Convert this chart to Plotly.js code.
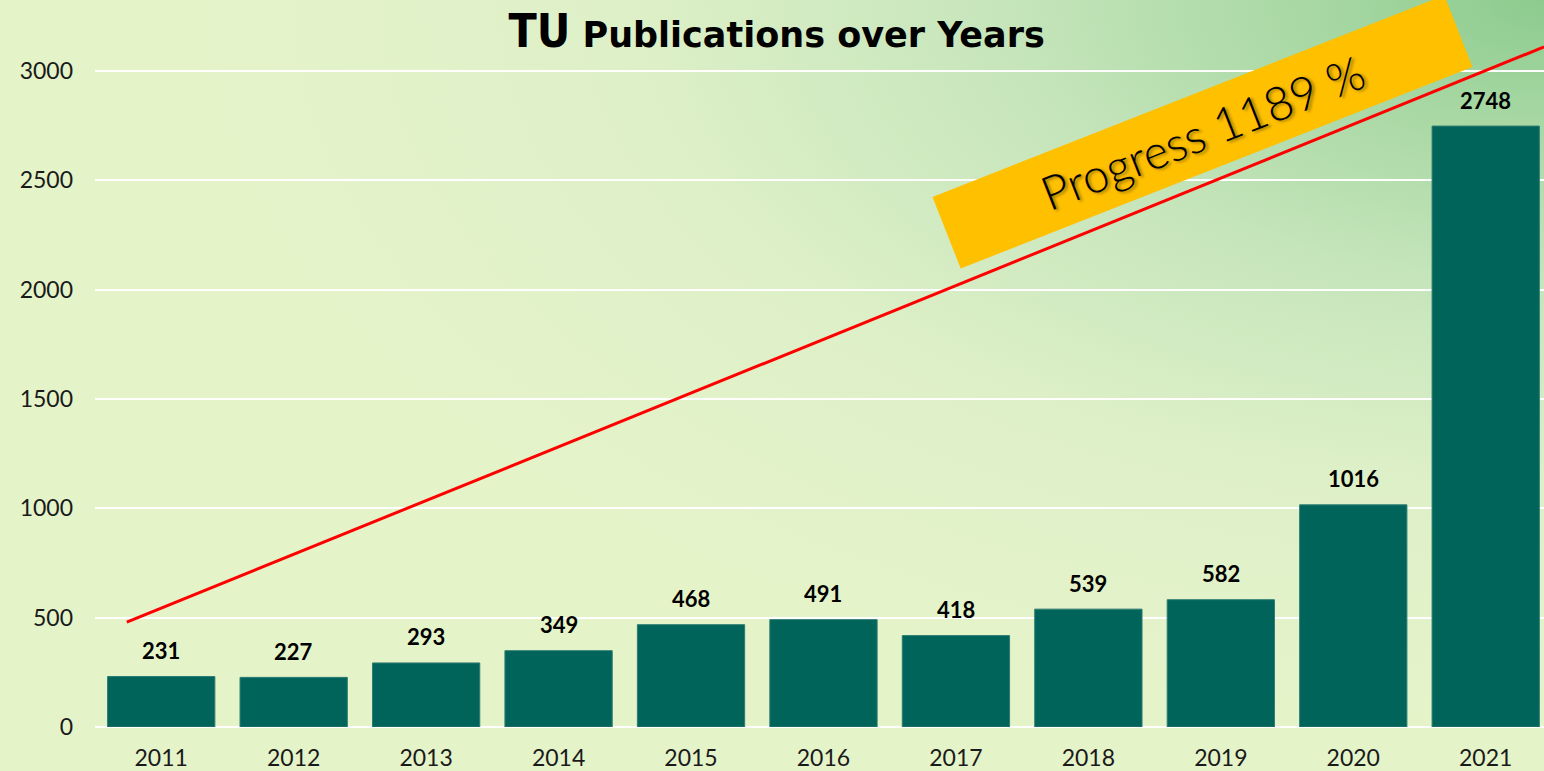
<!DOCTYPE html>
<html>
<head>
<meta charset="utf-8">
<script src="https://cdn.plot.ly/plotly-3.0.1.min.js"></script>
<style>
  html, body { margin: 0; padding: 0; }
  #chart {
    width: 1544px; height: 771px;
    background: radial-gradient(ellipse 1350px 720px at 100% 0%, #8ccb8e 0%, #a6d7a2 16%, #c6e5bb 40%, #def0c8 68%, #e5f3c9 100%);
  }
</style>
</head>
<body>
<div id="chart"></div>
<script>
const years = ['2011','2012','2013','2014','2015','2016','2017','2018','2019','2020','2021'];
const publications = [231, 227, 293, 349, 468, 491, 418, 539, 582, 1016, 2748];
const trendX = [-0.26, 10.44];
const trendY = [480, 3110];
const progressLabel = 'Progress 1189 %';
const yTicks = [0, 500, 1000, 1500, 2000, 2500, 3000];

const xIdx = years.map((_, i) => i);

const bars = {
  type: 'bar',
  x: xIdx,
  y: publications,
  marker: { color: '#00645a', line: { color: '#2d7d73', width: 1 } },
  hoverinfo: 'x+y',
  showlegend: false
};

const labelAnns = publications.map((v, i) => ({
  x: xIdx[i], y: v, xref: 'x', yref: 'y',
  text: String(v), showarrow: false,
  yanchor: 'middle', yshift: 26,
  font: { family: 'Lato, sans-serif', size: 22, weight: 700, color: '#000' }
}));

const progressAnn = {
  x: 7.86, y: 2721, xref: 'x', yref: 'y',
  text: progressLabel, showarrow: false,
  textangle: -21.5,
  width: 545, height: 72, borderpad: 2,
  bgcolor: '#ffc000',
  font: { family: 'Lato, sans-serif', size: 47, weight: 300, color: '#000', shadow: '2px 2px 3px rgba(0,0,0,0.4)' }
};

const layout = {
  width: 1544, height: 771,
  paper_bgcolor: 'rgba(0,0,0,0)',
  plot_bgcolor: 'rgba(0,0,0,0)',
  margin: { l: 95, r: 0, t: 40, b: 44 },
  bargap: 0.19,
  title: {
    text: '<span style="font-family:\'Liberation Sans Narrow\', \'DejaVu Sans Condensed\', sans-serif;font-size:46px">TU</span> Publications over Years',
    font: { family: 'DejaVu Sans, sans-serif', size: 35, weight: 700, color: '#000' },
    x: 0.503, xanchor: 'center', xref: 'container',
    y: 0.955, yanchor: 'middle'
  },
  xaxis: {
    type: 'linear',
    range: [-0.5, 10.44],
    tickvals: xIdx,
    ticktext: years,
    showgrid: false, zeroline: false, showline: false,
    ticks: '',
    ticklabelstandoff: 15,
    tickfont: { family: 'Lato, sans-serif', size: 23, color: '#1a1a1a' },
    fixedrange: true
  },
  yaxis: {
    range: [0, 3141.7],
    tickvals: yTicks,
    showgrid: true, gridcolor: '#ffffff', gridwidth: 2,
    zeroline: true, zerolinecolor: '#ffffff', zerolinewidth: 2,
    showline: false, ticks: '',
    ticklabelstandoff: 21,
    tickfont: { family: 'Lato, sans-serif', size: 23, color: '#1a1a1a' },
    fixedrange: true
  },
  shapes: [{
    type: 'line', xref: 'x', yref: 'y',
    x0: trendX[0], y0: trendY[0], x1: trendX[1], y1: trendY[1],
    line: { color: '#ff0000', width: 3 }
  }],
  annotations: labelAnns.concat([progressAnn])
};

Plotly.newPlot('chart', [bars], layout, { displayModeBar: false, staticPlot: true });
</script>
</body>
</html>
